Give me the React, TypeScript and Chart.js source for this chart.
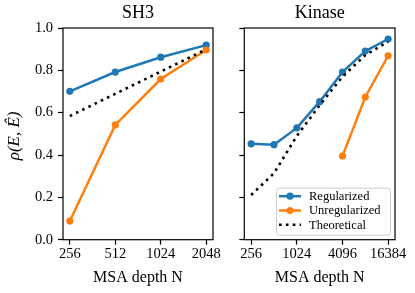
import React, { useEffect, useRef } from "react";
import { Chart, registerables } from "chart.js";

Chart.register(...registerables);

// ---------- data ----------
const sh3Depths = [256, 512, 1024, 2048];
const sh3Regularized = [0.701, 0.792, 0.862, 0.919];
const sh3Unregularized = [0.088, 0.542, 0.759, 0.896];
const sh3Theoretical = [0.584, 0.689, 0.794, 0.899];

const kinaseDepths = [256, 512, 1024, 2048, 4096, 8192, 16384];
const kinaseRegularized = [0.453, 0.449, 0.528, 0.652, 0.792, 0.891, 0.948];
const kinaseUnregDepths = [4096, 8192, 16384];
const kinaseUnregularized = [0.395, 0.674, 0.869];
const kinaseTheoretical = [0.211, 0.314, 0.49, 0.635, 0.77, 0.872, 0.935];

const yTicks = [0, 0.2, 0.4, 0.6, 0.8, 1.0];
const sh3XTicks = [256, 512, 1024, 2048];
const kinaseXTicks = [256, 1024, 4096, 16384];

const seriesNames = ["Regularized", "Unregularized", "Theoretical"];
const panelTitles = ["SH3", "Kinase"];
const xAxisLabel = "MSA depth N";
const yAxisLabel = "\u03C1(E, \u00CA)";

// ---------- styles ----------
const BLUE = "#1f77b4";
const ORANGE = "#ff7f0e";
const FONT = "'Liberation Serif', 'Times New Roman', serif";
const W = 415;
const H = 293;
const PLOT_TOP = 28;
const PLOT_BOTTOM = 239.7;
const DOT_DASH = [2.6, 4.3];

const pts = (xs: number[], ys: number[]) => xs.map((x, i) => ({ x, y: ys[i] }));

function lineDs(label: string, xs: number[], ys: number[], color: string) {
  return {
    label,
    data: pts(xs, ys),
    borderColor: color,
    backgroundColor: color,
    borderWidth: 2.5,
    pointRadius: 3.6,
    pointBorderWidth: 0,
    pointBackgroundColor: color,
    tension: 0,
  };
}

function theoDs(xs: number[], ys: number[]) {
  return {
    label: seriesNames[2],
    data: pts(xs, ys),
    borderColor: "#000",
    borderWidth: 2.6,
    borderDash: DOT_DASH,
    borderCapStyle: "butt",
    pointRadius: 0,
    tension: 0,
  };
}

function decorPlugin(title: string, showYLabel: boolean, showLegend: boolean) {
  return {
    id: "decor" + title,
    afterDatasetsDraw(chart: any) {
      const ctx = chart.ctx as CanvasRenderingContext2D;
      const a = chart.chartArea;
      ctx.save();
      // frame (spines)
      ctx.strokeStyle = "#000";
      ctx.lineWidth = 1.2;
      ctx.strokeRect(a.left, a.top, a.right - a.left, a.bottom - a.top);
      ctx.restore();
    },
    afterDraw(chart: any) {
      const ctx = chart.ctx as CanvasRenderingContext2D;
      const a = chart.chartArea;
      const cx = (a.left + a.right) / 2;
      ctx.save();
      ctx.fillStyle = "#000";
      ctx.textAlign = "center";
      ctx.textBaseline = "alphabetic";
      ctx.font = `18px ${FONT}`;
      ctx.fillText(title, cx, 18);
      ctx.font = `16px ${FONT}`;
      ctx.fillText(xAxisLabel, cx, 282);
      if (showYLabel) {
        ctx.save();
        ctx.translate(15, (a.top + a.bottom) / 2 + 2);
        ctx.rotate(-Math.PI / 2);
        ctx.textBaseline = "middle";
        ctx.font = `italic 17px ${FONT}`;
        ctx.fillText(yAxisLabel, 0, 0);
        ctx.restore();
      }
      if (showLegend) {
        const bx = a.right - 119;
        const by = a.bottom - 52;
        const bw = 114;
        const bh = 47;
        ctx.beginPath();
        (ctx as any).roundRect(bx + 0.5, by + 0.5, bw, bh, 3);
        ctx.fillStyle = "rgba(255,255,255,0.8)";
        ctx.fill();
        ctx.strokeStyle = "#cccccc";
        ctx.lineWidth = 1;
        ctx.stroke();
        const colors = [BLUE, ORANGE, "#000"];
        for (let i = 0; i < 3; i++) {
          const y = by + 8.5 + i * 14.3;
          const x0 = bx + 3;
          const x1 = bx + 25;
          ctx.save();
          ctx.strokeStyle = colors[i];
          if (i < 2) {
            ctx.lineWidth = 2.5;
            ctx.beginPath();
            ctx.moveTo(x0, y);
            ctx.lineTo(x1, y);
            ctx.stroke();
            ctx.fillStyle = colors[i];
            ctx.beginPath();
            ctx.arc((x0 + x1) / 2, y, 3.6, 0, Math.PI * 2);
            ctx.fill();
          } else {
            ctx.lineWidth = 2.6;
            ctx.setLineDash(DOT_DASH);
            ctx.beginPath();
            ctx.moveTo(x0, y);
            ctx.lineTo(x1, y);
            ctx.stroke();
          }
          ctx.restore();
          ctx.fillStyle = "#000";
          ctx.textAlign = "left";
          ctx.textBaseline = "middle";
          ctx.font = `12.5px ${FONT}`;
          ctx.fillText(seriesNames[i], bx + 33, y + 0.5);
        }
      }
      ctx.restore();
    },
  };
}

function makeConfig(
  datasets: any[],
  xTicks: number[],
  xPad: number,
  plotLeft: number,
  plotRight: number,
  yAxisWidth: number,
  showYLabels: boolean,
  title: string,
  showLegend: boolean
) {
  const lo = xTicks[0];
  const hi = xTicks[xTicks.length - 1];
  return {
    type: "line",
    data: { datasets },
    options: {
      responsive: false,
      maintainAspectRatio: false,
      animation: false,
      events: [],
      layout: {
        padding: { left: plotLeft - yAxisWidth, right: W - plotRight, top: PLOT_TOP, bottom: 0 },
      },
      plugins: {
        legend: { display: false },
        tooltip: { enabled: false },
        title: { display: false },
      },
      scales: {
        x: {
          type: "logarithmic",
          min: lo / Math.pow(2, xPad),
          max: hi * Math.pow(2, xPad),
          afterBuildTicks: (s: any) => {
            s.ticks = xTicks.map((v) => ({ value: v }));
          },
          afterFit: (s: any) => {
            s.height = H - PLOT_BOTTOM;
            s.paddingLeft = 0;
            s.paddingRight = 0;
          },
          ticks: {
            autoSkip: false,
            maxRotation: 0,
            padding: 1,
            color: "#000",
            font: { family: FONT, size: 14.5 },
            callback: (v: any) => String(v),
          },
          grid: {
            display: true,
            drawOnChartArea: false,
            drawTicks: true,
            tickLength: 5,
            tickColor: "#000",
            tickWidth: 1.2,
            color: "#000",
          },
          border: { display: false },
        },
        y: {
          type: "linear",
          min: 0,
          max: 1,
          afterBuildTicks: (s: any) => {
            s.ticks = yTicks.map((v) => ({ value: v }));
          },
          afterFit: (s: any) => {
            s.width = yAxisWidth;
            s.paddingTop = 0;
            s.paddingBottom = 0;
          },
          ticks: {
            display: showYLabels,
            padding: 5,
            color: "#000",
            font: { family: FONT, size: 14.5 },
            callback: (v: any) => Number(v).toFixed(1),
          },
          grid: {
            display: true,
            drawOnChartArea: false,
            drawTicks: true,
            tickLength: 5,
            tickColor: "#000",
            tickWidth: 1.2,
            color: "#000",
          },
          border: { display: false },
        },
      },
    },
    plugins: [decorPlugin(title, showYLabels, showLegend)],
  } as any;
}

export default function App() {
  const leftRef = useRef<HTMLCanvasElement>(null);
  const rightRef = useRef<HTMLCanvasElement>(null);

  useEffect(() => {
    const left = new Chart(
      leftRef.current as HTMLCanvasElement,
      makeConfig(
        [
          theoDs(sh3Depths, sh3Theoretical),
          lineDs(seriesNames[1], sh3Depths, sh3Unregularized, ORANGE),
          lineDs(seriesNames[0], sh3Depths, sh3Regularized, BLUE),
        ],
        sh3XTicks,
        0.15,
        63,
        213,
        63,
        true,
        panelTitles[0],
        false
      )
    );
    const right = new Chart(
      rightRef.current as HTMLCanvasElement,
      makeConfig(
        [
          theoDs(kinaseDepths, kinaseTheoretical),
          lineDs(seriesNames[1], kinaseUnregDepths, kinaseUnregularized, ORANGE),
          lineDs(seriesNames[0], kinaseDepths, kinaseRegularized, BLUE),
        ],
        kinaseXTicks,
        0.3,
        244.3,
        395,
        10,
        false,
        panelTitles[1],
        true
      )
    );
    return () => {
      left.destroy();
      right.destroy();
    };
  }, []);

  const cstyle: React.CSSProperties = { position: "absolute", left: 0, top: 0, width: W, height: H };
  return (
    <div style={{ position: "fixed", left: 0, top: 0, width: W, height: H, background: "#fff" }}>
      <canvas ref={leftRef} width={W} height={H} style={cstyle} />
      <canvas ref={rightRef} width={W} height={H} style={cstyle} />
    </div>
  );
}
